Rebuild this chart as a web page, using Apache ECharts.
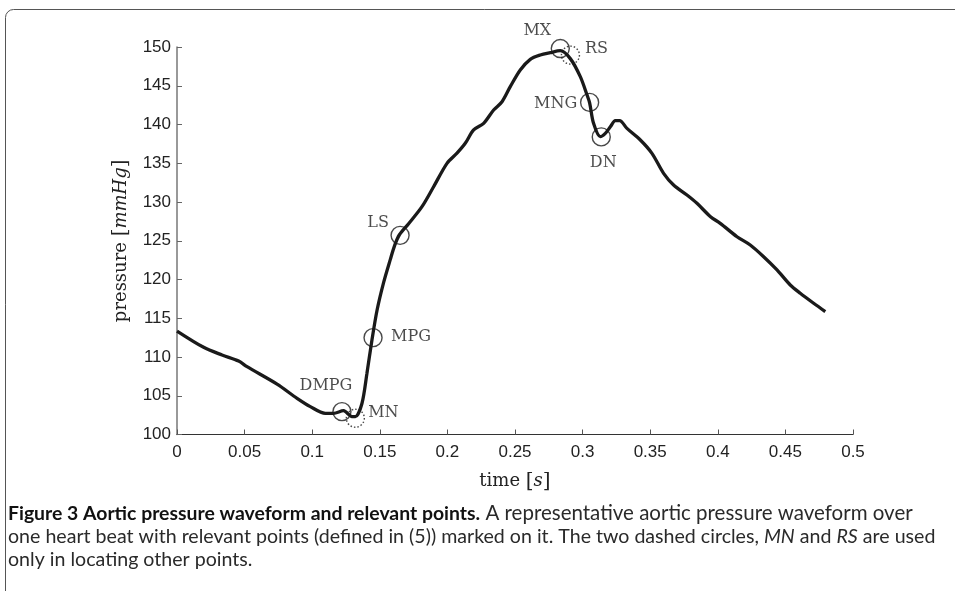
<!DOCTYPE html>
<html>
<head>
<meta charset="utf-8">
<script src="https://cdn.jsdelivr.net/npm/echarts@6/dist/echarts.min.js"></script>
<style>
html,body{margin:0;padding:0;background:#fff;}
#chart{width:955px;height:591px;}
</style>
</head>
<body>
<div id="chart"></div>
<script>
// ---- data ----
var timeS = [0, 0.0197, 0.0333, 0.0456, 0.0518, 0.074, 0.0888, 0.0986, 0.1097, 0.1158, 0.1232, 0.1294, 0.1319, 0.1368, 0.1405, 0.1442, 0.148, 0.1528, 0.1578, 0.1610, 0.1644, 0.1713, 0.1812, 0.1898, 0.1997, 0.2071, 0.2132, 0.2194, 0.2268, 0.2342, 0.2404, 0.2465, 0.2539, 0.2613, 0.2687, 0.2761, 0.2835, 0.2909, 0.2983, 0.3033, 0.3052, 0.3081, 0.3131, 0.3168, 0.3205, 0.3242, 0.3274, 0.3328, 0.3427, 0.3513, 0.3599, 0.3673, 0.3772, 0.3846, 0.3946, 0.4018, 0.4142, 0.424, 0.4339, 0.4438, 0.4536, 0.461, 0.4709, 0.4795];
var pressure = [113.35, 111.25, 110.26, 109.48, 108.75, 106.5, 104.67, 103.6, 102.73, 102.73, 103.07, 102.3, 102.3, 104.0, 107.9, 112.2, 116.06, 119.6, 122.6, 124.4, 125.74, 127.2, 129.4, 131.97, 134.99, 136.3, 137.57, 139.3, 140.15, 141.87, 142.94, 144.88, 147.03, 148.41, 148.97, 149.27, 149.52, 148.5, 146.17, 143.8, 142.8, 140.15, 138.43, 138.86, 139.7, 140.5, 140.5, 139.5, 138.0, 136.28, 133.7, 132.19, 130.9, 129.83, 128.1, 127.25, 125.52, 124.45, 122.94, 121.23, 119.29, 118.22, 116.93, 115.85];

var pointNames = ['DMPG', 'MN', 'MPG', 'LS', 'MX', 'RS', 'MNG', 'DN'];
var pointTimes = [0.122, 0.1319, 0.145, 0.165, 0.2835, 0.291, 0.3052, 0.3138];
var pointPressures = [102.95, 102.1, 112.5, 125.7, 149.8, 148.95, 142.85, 138.4];
var pointDashed = [false, true, false, false, false, true, false, false];

var xTicks = [0, 0.05, 0.1, 0.15, 0.2, 0.25, 0.3, 0.35, 0.4, 0.45, 0.5];
var yTicks = [100, 105, 110, 115, 120, 125, 130, 135, 140, 145, 150];

// ---- styles ----
var labelOffsets = {
  DMPG: [-16, -26], MN: [28, -5], MPG: [38, -1], LS: [-22, -12],
  MX: [-23, -18], RS: [26, -6], MNG: [-34, 1], DN: [2, 26]
};

var lineData = timeS.map(function (t, i) { return [t, pressure[i]]; });
var solidPts = [], dashedPts = [];
pointNames.forEach(function (n, i) {
  var item = {
    name: n,
    value: [pointTimes[i], pointPressures[i]],
    label: { offset: labelOffsets[n] }
  };
  (pointDashed[i] ? dashedPts : solidPts).push(item);
});

var serif = 'DejaVu Serif';
var sans = 'Liberation Sans';
var capFont = 'Lato';
var markerLabel = {
  show: true, position: 'inside', formatter: '{b}',
  fontFamily: serif, fontSize: 16, color: '#1e1e1e',
  align: 'center', verticalAlign: 'middle'
};

var chart = echarts.init(document.getElementById('chart'), null, { renderer: 'canvas' });
chart.setOption({
  animation: false,
  backgroundColor: '#fff',
  grid: { left: 177, right: 102, top: 47, bottom: 156.5, containLabel: false },
  xAxis: {
    type: 'value', min: xTicks[0], max: xTicks[xTicks.length - 1], interval: 0.05,
    name: '{n|time }{b|[}{i|s}{b|]}', nameLocation: 'middle', nameGap: 37,
    nameTextStyle: {
      rich: {
        n: { fontFamily: serif, fontSize: 18, color: '#222' },
        b: { fontFamily: serif, fontSize: 20, color: '#222' },
        i: { fontFamily: serif, fontSize: 18, fontStyle: 'italic', color: '#222' }
      }
    },
    axisLine: { show: true, lineStyle: { color: '#333', width: 1.2 } },
    axisTick: { show: true, inside: true, length: 5, lineStyle: { color: '#555' } },
    axisLabel: { fontFamily: sans, fontSize: 17, color: '#222', margin: 9,
      formatter: function (v) { return String(Math.round(v * 100) / 100); } },
    splitLine: { show: false }
  },
  yAxis: {
    type: 'value', min: yTicks[0], max: yTicks[yTicks.length - 1], interval: 5,
    name: '{n|pressure }{b|[}{i|mmHg}{b|]}', nameLocation: 'middle', nameGap: 46,
    nameRotate: 90,
    nameTextStyle: {
      rich: {
        n: { fontFamily: serif, fontSize: 18, color: '#222' },
        b: { fontFamily: serif, fontSize: 20, color: '#222' },
        i: { fontFamily: serif, fontSize: 18, fontStyle: 'italic', color: '#222' }
      }
    },
    axisLine: { show: true, lineStyle: { color: '#777', width: 1.5 } },
    axisTick: { show: true, inside: true, length: 5, lineStyle: { color: '#666' } },
    axisLabel: { fontFamily: sans, fontSize: 17, color: '#222', margin: 6 },
    splitLine: { show: false }
  },
  series: [
    {
      type: 'line', data: lineData, showSymbol: false, smooth: 0.3,
      lineStyle: { color: '#1a1a1a', width: 3.3 }, z: 2
    },
    {
      type: 'scatter', data: solidPts, symbol: 'circle', symbolSize: 18,
      itemStyle: { color: 'rgba(0,0,0,0)', borderColor: '#1a1a1a', borderWidth: 1.4 },
      label: markerLabel, z: 3
    },
    {
      type: 'scatter', data: dashedPts, symbol: 'circle', symbolSize: 18,
      itemStyle: { color: 'rgba(0,0,0,0)', borderColor: '#1a1a1a', borderWidth: 1.4, borderType: [1.5, 2] },
      label: markerLabel, z: 3
    }
  ],
  graphic: [
    {
      type: 'rect', silent: true,
      shape: { x: 5.5, y: 9.5, width: 1000, height: 700, r: [8, 0, 0, 0] },
      style: { fill: 'none', stroke: '#555', lineWidth: 1 }
    },
    {
      type: 'text', left: 8, top: 503, silent: true,
      style: {
        text: '{b|Figure 3 Aortic pressure waveform and relevant points.} A representative aortic pressure waveform over',
        fontFamily: capFont, fontSize: 20.5, fill: '#2a2a2a',
        rich: { b: { fontFamily: capFont, fontSize: 19.4, fontWeight: 'bold', fill: '#111' } }
      }
    },
    {
      type: 'text', left: 8, top: 527, silent: true,
      style: {
        text: 'one heart beat with relevant points (defined in (5)) marked on it. The two dashed circles, {i|MN} and {i|RS} are used',
        fontFamily: capFont, fontSize: 19.6, fill: '#2a2a2a',
        rich: { i: { fontFamily: capFont, fontSize: 19.6, fontStyle: 'italic', fill: '#2a2a2a' } }
      }
    },
    {
      type: 'text', left: 8, top: 550, silent: true,
      style: { text: 'only in locating other points.', fontFamily: capFont, fontSize: 19.6, fill: '#2a2a2a' }
    }
  ]
});
</script>
</body>
</html>
